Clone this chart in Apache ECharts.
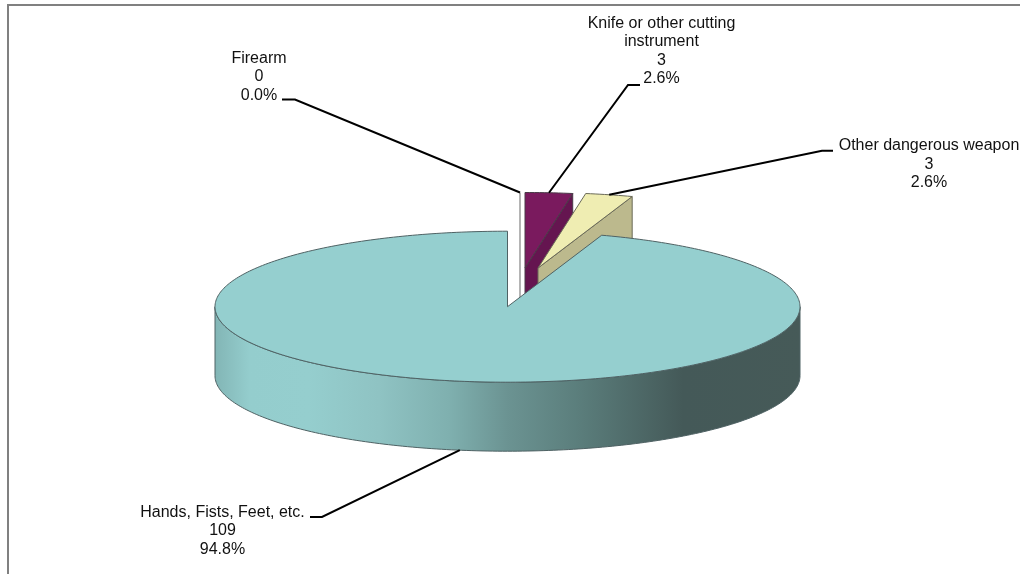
<!DOCTYPE html>
<html>
<head>
<meta charset="utf-8">
<style>html,body{margin:0;padding:0;background:#fff}#c{width:1020px;height:574px}</style>
<script src="https://cdn.jsdelivr.net/npm/echarts@6/dist/echarts.min.js"></script>
</head>
<body>
<div id="c"></div>
<script>
// Data
const categories = ['Firearm', 'Knife or other cutting\ninstrument', 'Other dangerous weapon', 'Hands, Fists, Feet, etc.'];
const values = [0, 3, 3, 109];

// Drawing layout (separate from data)
const pie = { cx: 507.5, cy: 306.7, rx: 292.5, ry: 75.5, depth: 69 };
const explode = [[12.5, -38.7], [17.5, -38.7], [30.5, -38.7], [0, 0]];
const topColors = ['#ffffff', '#7a1a5e', '#efedb2', '#95cfcf'];
const sideColors = ['#ffffff', '#651550', '#bcb98d', '#95cfcf'];
const edgeColors = ['#b4b4b4', '#4a3a48', '#6a6a58', '#4f6264'];
const labelPos = [[259, 77], [661.5, 51], [929, 164.5], [222.5, 531]];
const leaderStart = [[[282, 99.5], [295, 99.5]], [[640, 85], [628, 85]], [[833, 150.7], [822, 150.7]], [[310, 517], [322, 517]]];
const wallStops = [[0, '#82b5b5'], [0.06, '#94cdcd'], [0.16, '#95cece'], [0.28, '#8fc3c3'], [0.4, '#7fb0af'], [0.5, '#6b9392'], [0.62, '#5b7e7c'], [0.8, '#445958'], [1, '#465a58']];

const total = values.reduce((a, b) => a + b, 0);
const starts = [];
values.reduce((acc, v, i) => { starts[i] = acc; return acc + v; }, 0);

function rim(deg, ox, oy, dz) {
  const t = deg * Math.PI / 180;
  return [pie.cx + ox + pie.rx * Math.sin(t), pie.cy + oy - pie.ry * Math.cos(t) + (dz || 0)];
}
function arc(a, b, ox, oy, dz) {
  const pts = [];
  const n = Math.max(1, Math.ceil(Math.abs(b - a)));
  for (let i = 0; i <= n; i++) pts.push(rim(a + (b - a) * i / n, ox, oy, dz));
  return pts;
}

function renderItem(params, api) {
  const i = params.dataIndex;
  const v = api.value(1);
  const a0 = starts[i] / total * 360;
  const a1 = a0 + v / total * 360;
  const [ox, oy] = explode[i];
  const apex = [pie.cx + ox, pie.cy + oy];
  const children = [];
  // cut wall at the end of the slice (faces the viewer only in the upper right quarter)
  if (a1 < 90) {
    const r = rim(a1, ox, oy);
    children.push({ type: 'polygon',
      shape: { points: [apex, r, [r[0], r[1] + pie.depth], [apex[0], apex[1] + pie.depth]] },
      style: { fill: sideColors[i], stroke: edgeColors[i], lineWidth: v === 0 ? 2 : 1 } });
  }
  // outer wall: the part of the rim facing the viewer
  const f0 = Math.max(a0, 90), f1 = Math.min(a1, 270);
  if (f1 > f0) {
    const lower = arc(f0, f1, ox, oy, pie.depth);
    const upper = arc(f1, f0, ox, oy, 0);
    children.push({ type: 'polygon',
      shape: { points: upper.concat(lower) },
      style: { fill: new echarts.graphic.LinearGradient(0, 0, 1, 0, wallStops.map(s => ({ offset: s[0], color: s[1] }))), stroke: edgeColors[i], lineWidth: 1 } });
  }
  // top face
  if (v > 0) {
    children.push({ type: 'polygon',
      shape: { points: [apex].concat(arc(a0, a1, ox, oy, 0)) },
      style: { fill: topColors[i], stroke: edgeColors[i], lineWidth: 1 } });
  }
  // leader line, ending on the rim at the slice's middle angle
  const mid = (a0 + a1) / 2;
  const end = rim(mid, ox, oy, mid > 90 && mid < 270 ? pie.depth : 0);
  children.push({ type: 'polyline', z2: 20,
    shape: { points: leaderStart[i].concat([end]) },
    style: { fill: null, stroke: '#000', lineWidth: 2 } });
  // label
  children.push({ type: 'text', z2: 20,
    style: { text: categories[i] + '\n' + v + '\n' + (v / total * 100).toFixed(1) + '%',
      x: labelPos[i][0], y: labelPos[i][1], align: 'center', verticalAlign: 'middle',
      fontFamily: 'Liberation Sans', fontSize: 16, lineHeight: 18.5, fill: '#111' } });
  return { type: 'group', children };
}

const chart = echarts.init(document.getElementById('c'), null, { renderer: 'canvas' });
chart.setOption({
  animation: false,
  backgroundColor: '#ffffff',
  graphic: [
    { type: 'line', shape: { x1: 7, y1: 5, x2: 1020, y2: 5 }, style: { stroke: '#808080', lineWidth: 2 } },
    { type: 'line', shape: { x1: 8, y1: 5, x2: 8, y2: 574 }, style: { stroke: '#808080', lineWidth: 2 } }
  ],
  series: [{
    type: 'custom',
    coordinateSystem: 'none',
    renderItem,
    silent: true,
    data: values.map((v, i) => [i, v])
  }]
});
</script>
</body>
</html>
